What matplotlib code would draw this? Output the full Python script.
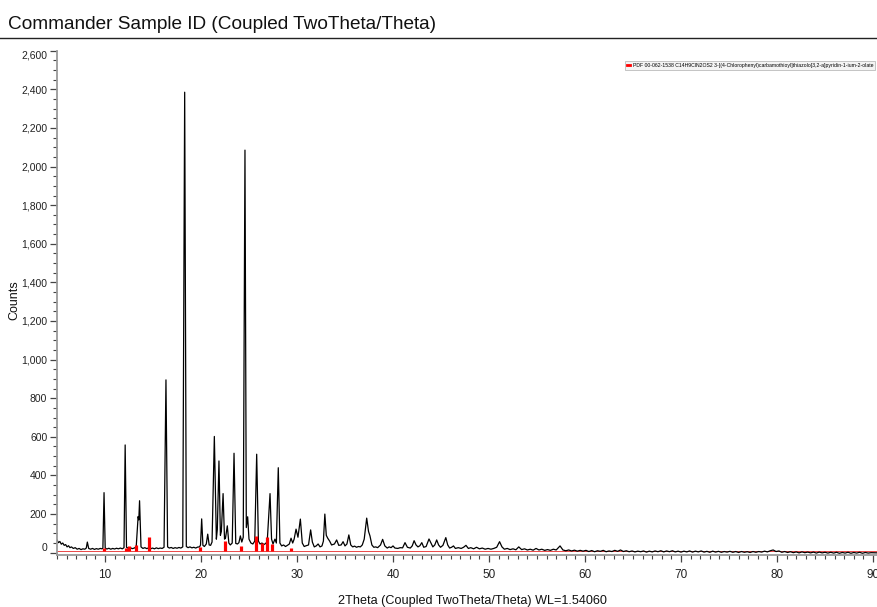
import matplotlib
matplotlib.use('Agg')
import matplotlib.pyplot as plt
from matplotlib.lines import Line2D
from matplotlib.ticker import MultipleLocator, FuncFormatter

plt.rcParams['font.family'] = ['Liberation Sans', 'DejaVu Sans']

low_angle = [
    (5.0, 66), (5.15, 52), (5.3, 58), (5.45, 44), (5.6, 50), (5.75, 38), (5.9, 42), (6.05, 30),
    (6.2, 36), (6.35, 26), (6.5, 30), (6.7, 22), (6.9, 26), (7.1, 18), (7.3, 22), (7.5, 16),
    (7.7, 20), (7.9, 18), (8.05, 24), (8.16, 55), (8.3, 22), (8.5, 18), (8.7, 22), (8.9, 17),
    (9.1, 21), (9.3, 18), (9.5, 22), (9.7, 20), (9.78, 24), (9.9, 311), (10.02, 24), (10.2, 19),
    (10.4, 23), (10.6, 18), (10.8, 22), (11.0, 19), (11.2, 23), (11.4, 20), (11.6, 24), (11.8, 20),
    (11.98, 26), (12.1, 558), (12.24, 28), (12.45, 22), (12.65, 25), (12.85, 21), (13.05, 24),
    (13.25, 30), (13.45, 187), (13.52, 170), (13.6, 269), (13.75, 30), (13.95, 22), (14.15, 26),
    (14.35, 21), (14.55, 25), (14.75, 20), (14.95, 24), (15.15, 20), (15.35, 25), (15.55, 21),
    (15.75, 24), (15.95, 22), (16.15, 28), (16.35, 895), (16.52, 30), (16.7, 24), (16.9, 27),
    (17.1, 22), (17.3, 26), (17.5, 23), (17.7, 27), (17.9, 24), (18.1, 30), (18.3, 2385),
    (18.47, 32), (18.65, 26), (18.85, 30), (19.05, 25), (19.25, 28), (19.45, 24), (19.65, 29),
    (19.85, 30),
]

mid_angle = [
    (19.95, 40), (20.07, 175), (20.2, 38), (20.35, 32), (20.55, 45), (20.7, 96), (20.85, 40),
    (21.0, 38), (21.15, 55), (21.39, 602), (21.6, 70), (21.7, 120), (21.87, 475), (22.02, 90),
    (22.12, 110), (22.3, 306), (22.45, 70), (22.55, 75), (22.74, 139), (22.9, 50), (23.05, 40),
    (23.25, 50), (23.44, 515), (23.62, 48), (23.8, 45), (23.95, 52), (24.1, 87), (24.25, 55),
    (24.4, 80), (24.58, 2085), (24.72, 130), (24.86, 186), (25.0, 70), (25.2, 50), (25.4, 45),
    (25.6, 60), (25.8, 510), (25.98, 60), (26.15, 45), (26.35, 50), (26.55, 42), (26.75, 48),
    (26.9, 60), (27.19, 306), (27.35, 70), (27.5, 45), (27.7, 70), (27.85, 50), (28.05, 440),
    (28.22, 50), (28.4, 35), (28.6, 40), (28.8, 32), (29.0, 38), (29.2, 45), (29.38, 75),
    (29.55, 50), (29.7, 70), (29.9, 122), (30.1, 80), (30.35, 174), (30.55, 50), (30.75, 32),
    (30.95, 36), (31.2, 40), (31.42, 118), (31.6, 55), (31.8, 30), (32.0, 35), (32.2, 45),
    (32.4, 30), (32.6, 35), (32.75, 60), (32.9, 200), (33.05, 90), (33.2, 75), (33.4, 60),
    (33.6, 40), (33.9, 45), (34.13, 66), (34.35, 38), (34.6, 40), (34.8, 57), (35.0, 35),
    (35.2, 45), (35.4, 92), (35.6, 40), (35.8, 30), (36.0, 34), (36.2, 28), (36.4, 32),
    (36.6, 30), (36.8, 40), (37.0, 70), (37.26, 179), (37.45, 110), (37.6, 87), (37.8, 40),
    (38.0, 28), (38.2, 30), (38.4, 26), (38.7, 40), (38.92, 69), (39.15, 35), (39.4, 24),
    (39.6, 30), (39.8, 26), (40.0, 35), (40.2, 24), (40.5, 22), (40.75, 26), (41.0, 25),
    (41.25, 52), (41.5, 28), (41.8, 24), (42.0, 35), (42.2, 62), (42.4, 40), (42.6, 30),
    (42.8, 36), (43.0, 52), (43.2, 28), (43.45, 32), (43.75, 71), (43.95, 50), (44.15, 30),
    (44.35, 40), (44.55, 66), (44.75, 40), (44.95, 28), (45.2, 38), (45.5, 78), (45.7, 40),
    (45.9, 24), (46.1, 28), (46.3, 35), (46.5, 22), (46.8, 26), (47.1, 22), (47.35, 28),
    (47.6, 38), (47.85, 22), (48.1, 26), (48.4, 20), (48.7, 28), (49.0, 20), (49.3, 24),
    (49.6, 18), (49.9, 22), (50.2, 18), (50.5, 22), (50.8, 28), (51.1, 57), (51.35, 30),
    (51.6, 18), (51.9, 22), (52.2, 16), (52.5, 20), (52.8, 15), (53.1, 30), (53.4, 16),
    (53.7, 20), (54.0, 14), (54.3, 18), (54.6, 13), (54.9, 22), (55.2, 14), (55.5, 18),
    (55.8, 12), (56.1, 16), (56.4, 12), (56.7, 18), (57.0, 14), (57.4, 35), (57.7, 14),
    (58.0, 10), (58.3, 14), (58.6, 9), (58.9, 13), (59.2, 8), (59.5, 12), (59.8, 8),
]

high_angle = [
    (60.1, 12), (60.4, 6), (60.7, 11), (61.0, 5), (61.3, 10), (61.6, 7), (61.9, 12), (62.2, 5),
    (62.5, 9), (62.8, 6), (63.1, 12), (63.4, 7), (63.7, 14), (64.0, 6), (64.3, 10), (64.6, 5),
    (64.9, 9), (65.2, 4), (65.5, 8), (65.8, 5), (66.1, 9), (66.4, 3), (66.7, 8), (67.0, 4),
    (67.3, 9), (67.6, 5), (67.9, 10), (68.2, 4), (68.5, 9), (68.8, 5), (69.1, 10), (69.4, 4),
    (69.7, 8), (70.0, 3), (70.3, 8), (70.6, 4), (70.9, 9), (71.2, 3), (71.5, 8), (71.8, 4),
    (72.1, 9), (72.4, 3), (72.7, 7), (73.0, 2), (73.3, 8), (73.6, 3), (73.9, 7), (74.2, 2),
    (74.5, 6), (74.8, 3), (75.1, 7), (75.4, 2), (75.7, 6), (76.0, 1), (76.3, 6), (76.6, 2),
    (76.9, 5), (77.2, 1), (77.5, 6), (77.8, 2), (78.1, 6), (78.4, 3), (78.7, 8), (79.0, 4),
    (79.3, 10), (79.6, 14), (79.9, 6), (80.2, 9), (80.5, 2), (80.8, 6), (81.1, 1), (81.4, 5),
    (81.7, 0), (82.0, 4), (82.3, -1), (82.6, 4), (82.9, 0), (83.2, 3), (83.5, -1), (83.8, 3),
    (84.1, -2), (84.4, 3), (84.7, -1), (85.0, 2), (85.3, -2), (85.6, 2), (85.9, -2), (86.2, 2),
    (86.5, -3), (86.8, 1), (87.1, -2), (87.4, 2), (87.7, -3), (88.0, 1), (88.3, -2), (88.6, 2),
    (88.9, -3), (89.2, 1), (89.5, -2), (89.8, 0), (90.5, -1),
]

# PDF 00-062-1538 reference sticks (top in counts)
ref_pos = [9.9, 12.15, 12.45, 13.2, 14.6, 19.9, 22.5, 24.2, 25.7, 26.35, 26.85, 27.35, 29.4]
ref_top = [24, 26, 36, 40, 83, 30, 62, 34, 87, 48, 83, 46, 24]
ref_base = 8

ref_label = ('PDF 00-062-1538 C14H9ClN2OS2 3-[(4-Chlorophenyl)carbamothioyl]'
             'thiazolo[3,2-a]pyridin-1-ium-2-olate')

pattern = low_angle + mid_angle + high_angle
two_theta = [p[0] for p in pattern]
counts = [p[1] for p in pattern]

W, H = 878, 607
fig = plt.figure(figsize=(W / 100, H / 100), dpi=100)
ax = fig.add_axes([57 / W, 1 - 555 / H, 1 - 57 / W, (555 - 50.7) / H])

ax.plot([5, 90.5], [ref_base, ref_base], color='#e00000', lw=0.5, zorder=1)
ax.plot(two_theta, counts, color='black', lw=0.9, zorder=2)
ax.vlines(ref_pos, ref_base, ref_top, color='#ff0000', lw=2.3, zorder=3)

ax.set_xlim(5, 90.52)
ax.set_ylim(-12, 2600)

ax.xaxis.set_major_locator(MultipleLocator(10))
ax.xaxis.set_minor_locator(MultipleLocator(1))
ax.yaxis.set_major_locator(MultipleLocator(200))
ax.yaxis.set_minor_locator(MultipleLocator(50))
ax.yaxis.set_major_formatter(FuncFormatter(lambda v, p: '{:,.0f}'.format(v)))

for s in ['top', 'right']:
    ax.spines[s].set_visible(False)
for s in ['left', 'bottom']:
    ax.spines[s].set_color('#9a9a9a')
    ax.spines[s].set_linewidth(1.3)

ax.tick_params(axis='both', which='major', direction='out', length=5, width=0.9,
               color='#444444', labelcolor='#222222')
ax.tick_params(axis='both', which='minor', direction='out', length=3, width=0.8,
               color='#444444')
ax.tick_params(axis='y', which='major', labelsize=7.5, pad=2)
ax.tick_params(axis='x', which='major', labelsize=8.5, pad=5)

# end labels of the count axis sit inside the axis span
fig.canvas.draw()
for lbl in ax.get_yticklabels():
    if lbl.get_text() == '0':
        lbl.set_va('bottom')
    elif lbl.get_text() == '2,600':
        lbl.set_va('top')

fig.text(14 / W, 1 - 300 / H, 'Counts', rotation=90, ha='center', va='center',
         fontsize=9, color='#111111')
fig.text(472 / W, 1 - 601 / H, '2Theta (Coupled TwoTheta/Theta) WL=1.54060',
         ha='center', va='center', fontsize=9.1, color='#111111')

fig.text(8 / W, 1 - 29 / H, 'Commander Sample ID (Coupled TwoTheta/Theta)',
         ha='left', va='baseline', fontsize=13.7, color='#111111')
fig.add_artist(Line2D([0, 1], [1 - 38.3 / H] * 2, transform=fig.transFigure,
                      color='#222222', lw=1.0))

# reference pattern legend
leg = ax.legend([Line2D([], [], color='#ff0000', lw=2)], [ref_label],
                loc='upper right', bbox_to_anchor=(1.0, 0.985), fontsize=3.7,
                handlelength=0.6, handletextpad=0.5, borderpad=0.4,
                frameon=True, fancybox=False, framealpha=1)
leg.get_frame().set_edgecolor('#bbbbbb')
leg.get_frame().set_linewidth(0.6)
leg.get_frame().set_facecolor('#f4f4f4')

fig.savefig('out.png', dpi=100)
